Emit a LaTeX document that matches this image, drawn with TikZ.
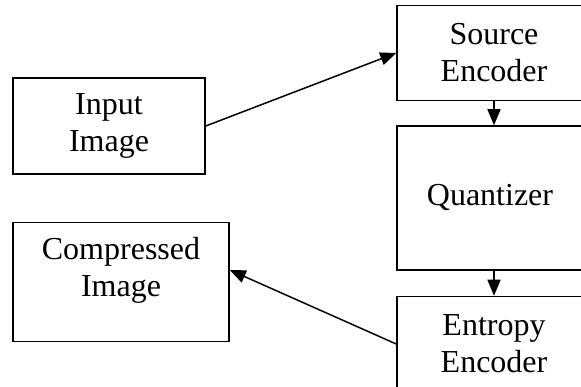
\documentclass[tikz,border=0pt]{standalone}
\usepackage{fontspec}
\setmainfont{Liberation Serif}
\usetikzlibrary{
  arrows.meta,
  positioning
}

\begin{document}
\begin{tikzpicture}[
            x=1pt, y=1pt,
            blk/.style={draw=black, line width=1.5pt, minimum width=194pt, minimum height=95pt, inner sep=0pt, align=center, font=\fontsize{32}{37}\selectfont},
            lbl/.style={align=center, inner sep=0pt, font=\fontsize{32}{37}\selectfont},
            flow/.style={-{Triangle[length=16pt,width=13pt]}, line width=1.5pt}
        ]
            \useasboundingbox (0,0) rectangle (581,387);
            % Input image
            \node[blk, minimum width=192pt, minimum height=96pt] (inp) at (109,261) {
                Input\\Image
            };
            % Source encoder
            \node[blk] (src) at (494,334) {
                Source\\Encoder
            };
            % Quantizer
            \node[blk, minimum height=144pt, below=24pt of src] (quant) {
                Quantizer
            };
            % Entropy encoder
            \node[blk, below=25pt of quant] (ent) {
                Entropy\\Encoder
            };
            % Compressed image (text sits high in the box)
            \node[blk, minimum width=216pt, minimum height=119pt] (comp) at (121,105) {};
            \node[lbl] (comptxt) at ([yshift=12pt]comp.center) {
                Compressed\\Image
            };
            % Flow
            \draw[flow] (inp.east) -- (src.west);
            \draw[flow] (src) -- (quant);
            \draw[flow] (quant) -- (ent);
            \draw[flow] (ent.west) -- (comp.east |- comptxt);
        \end{tikzpicture}
\end{document}
